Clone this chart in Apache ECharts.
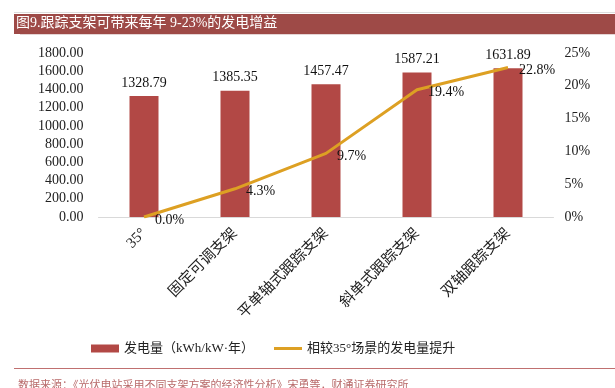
<!DOCTYPE html>
<html><head><meta charset="utf-8">
<script src="https://cdn.jsdelivr.net/npm/echarts@6/dist/echarts.min.js"></script>
<style>html,body{margin:0;padding:0;background:#fff}#c{width:615px;height:388px}</style>
</head><body><div id="c"></div>
<script>
const categories = ['35°', '固定可调支架', '平单轴式跟踪支架', '斜单式跟踪支架', '双轴跟踪支架'];
const generation = [1328.79, 1385.35, 1457.47, 1587.21, 1631.89];
const uplift = [0.0, 4.3, 9.7, 19.4, 22.8];
const leftTicks = { min: 0, max: 1800, interval: 200 };
const rightTicks = { min: 0, max: 25, interval: 5 };

const serif = '"Liberation Serif","DejaVu Serif",serif';
const mixed = '"Liberation Serif","Noto Sans CJK SC",serif';
const chart = echarts.init(document.getElementById('c'));
chart.setOption({
  animation: false,
  backgroundColor: '#fff',
  grid: { left: 98.5, right: 61.5, top: 53, bottom: 171 },
  legend: {
    left: 86, top: 337, itemGap: 20, itemWidth: 28, itemHeight: 8,
    textStyle: { fontFamily: mixed, fontSize: 13, color: '#222' },
    data: [
      { name: '发电量（kWh/kW·年）', icon: 'rect' },
      { name: '相较35°场景的发电量提升', icon: 'path://M0,0L28,0L28,3L0,3Z' }
    ]
  },
  xAxis: {
    type: 'category', data: categories,
    axisLine: { lineStyle: { color: '#d9d9d9' } },
    axisTick: { show: false },
    axisLabel: { rotate: 45, interval: 0, fontFamily: mixed, fontSize: 15, color: '#222', margin: 14 }
  },
  yAxis: [
    { type: 'value', min: leftTicks.min, max: leftTicks.max, interval: leftTicks.interval,
      splitLine: { show: false }, axisLine: { show: false }, axisTick: { show: false },
      axisLabel: { formatter: v => v.toFixed(2), fontFamily: serif, fontSize: 14, color: '#222', margin: 15 } },
    { type: 'value', min: rightTicks.min, max: rightTicks.max, interval: rightTicks.interval,
      splitLine: { show: false }, axisLine: { show: false }, axisTick: { show: false },
      axisLabel: { formatter: '{value}%', fontFamily: serif, fontSize: 14, color: '#222', margin: 11 } }
  ],
  series: [
    { name: '发电量（kWh/kW·年）', type: 'bar', data: generation, barWidth: 29,
      itemStyle: { color: '#B24845' },
      label: { show: true, position: 'top', distance: 6, formatter: p => p.value.toFixed(2),
        fontFamily: serif, fontSize: 14, color: '#111' } },
    { name: '相较35°场景的发电量提升', type: 'line', yAxisIndex: 1, data: uplift,
      symbol: 'circle', symbolSize: 0.1, showSymbol: true, z: 3,
      lineStyle: { color: '#DDA023', width: 3 }, itemStyle: { color: '#DDA023' },
      label: { show: true, position: 'right', distance: 11, offset: [0, 3],
        formatter: p => p.value.toFixed(1) + '%', fontFamily: serif, fontSize: 14, color: '#111' } }
  ],
  graphic: [
    { type: 'rect', shape: { x: 14, y: 12, width: 601, height: 1 }, style: { fill: '#ddd' } },
    { type: 'rect', shape: { x: 14, y: 14, width: 601, height: 20 }, style: { fill: '#9E4A47' } },
    { type: 'rect', shape: { x: 20, y: 34, width: 595, height: 1 }, style: { fill: '#e4d4d4' } },
    { type: 'text', left: 16, top: 16, style: { text: '图9.跟踪支架可带来每年 9-23%的发电增益', fill: '#fff', font: '14px "Liberation Serif", "Noto Sans CJK SC", serif' } },
    { type: 'rect', shape: { x: 14, y: 368, width: 601, height: 1 }, style: { fill: '#C07070' } },
    { type: 'text', left: 18, top: 379, style: { text: '数据来源：《光伏电站采用不同支架方案的经济性分析》宋勇等，财通证券研究所', fill: '#B86A6A', font: '11px "Noto Sans CJK SC", serif' } }
  ]
});
</script></body></html>
